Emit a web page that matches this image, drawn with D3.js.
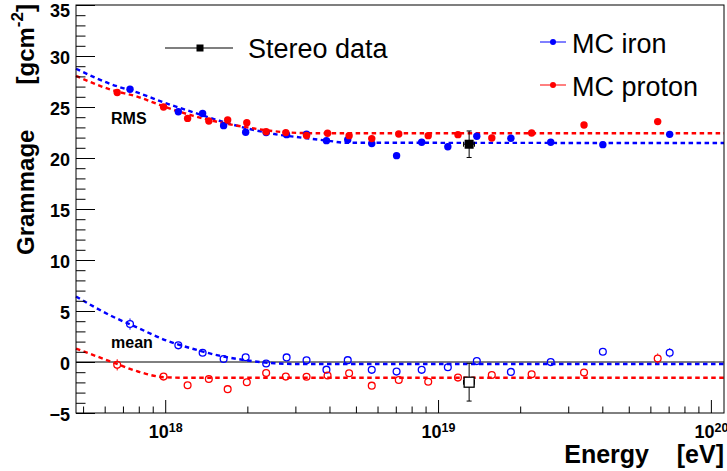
<!DOCTYPE html>
<html><head><meta charset="utf-8">
<script src="https://cdn.jsdelivr.net/npm/d3@7"></script>
<style>
body{margin:0;background:#fff}
svg{display:block}
text{font-family:"Liberation Sans",Arial,Helvetica,sans-serif}
</style>
</head><body>
<svg id="c" width="727" height="471"></svg>
<script>
// ---------------- data ----------------
const ironEnergy = [7.43e17,1.117e18,1.371e18,1.637e18,1.972e18,2.344e18,2.786e18,3.296e18,3.899e18,4.667e18,5.715e18,7.047e18,8.71e18,1.086e19,1.387e19,1.849e19,2.588e19,4.018e19,7.063e19];
const ironRMS    = [26.74,24.53,24.36,23.17,22.53,22.49,22.29,22.33,21.70,21.80,21.41,20.23,21.54,21.11,22.13,21.93,21.54,21.31,22.32];
const ironMean   = [3.72,1.63,0.90,0.30,0.46,-0.14,0.45,0.17,-0.75,0.18,-0.77,-0.94,-0.77,-0.51,0.09,-0.97,-0.01,1.00,0.90];
const ironMeanErr= [0.55,0.35,0.3,0.3,0.3,0.3,0.3,0.3,0.3,0.3,0.3,0.3,0.3,0.3,0.3,0.3,0.3,0.35,0.45];

const protonEnergy = [6.668e17,9.86e17,1.208e18,1.445e18,1.694e18,1.991e18,2.344e18,2.767e18,3.296e18,3.936e18,4.721e18,5.715e18,7.178e18,9.204e18,1.183e19,1.574e19,2.203e19,3.428e19,6.383e19];
const protonRMS    = [26.42,25.00,23.88,23.63,23.73,23.45,22.57,22.49,22.21,22.42,22.19,21.90,22.35,22.19,22.29,21.96,22.45,23.24,23.57];
const protonMean   = [-0.28,-1.43,-2.28,-1.67,-2.66,-1.98,-1.08,-1.43,-1.45,-1.33,-1.10,-2.32,-1.76,-1.93,-1.53,-1.27,-1.20,-1.04,0.34];
const protonMeanErr= [0.55,0.35,0.3,0.3,0.3,0.3,0.3,0.3,0.3,0.3,0.3,0.3,0.3,0.3,0.3,0.3,0.3,0.35,0.5];

const stereoEnergy = [1.30e19];
const stereoEnergyLo = [1.24e19];
const stereoEnergyHi = [1.36e19];
const stereoRMS = [21.35];
const stereoRMSErr = [1.3];
const stereoMean = [-1.98];
const stereoMeanErr = [1.85];

// fitted curves
const fitEnergy      = [4.71e17,6.31e17,7.94e17,1e18,1.26e18,1.58e18,2e18,2.51e18,3.16e18,3.98e18,4.57e18,1.117e20];
const fitIronRMS     = [28.75,27.25,26.4,25.4,24.5,23.65,22.9,22.35,22.0,21.68,21.5,21.47];
const fitProtonRMS   = [28.05,26.7,26.0,25.0,24.15,23.5,23.0,22.62,22.45,22.42,22.42,22.42];
const fitIronMean    = [6.43,4.55,3.35,2.15,1.3,0.62,0.15,-0.12,-0.2,-0.2,-0.2,-0.2];
const fitProtonMean  = [1.31,0.05,-0.93,-1.5,-1.55,-1.55,-1.55,-1.55,-1.55,-1.55,-1.55,-1.55];

const yTickValues = [-5,0,5,10,15,20,25,30,35];
const xTickValues = [1e18,1e19,1e20];
const xTickExponents = ["18","19","20"];
const legendLabels = ["Stereo data","MC iron","MC proton"];

// ---------------- chart ----------------
const BLUE = "#0000ff", RED = "#ff0000";
const R = 3.7;
const svg = d3.select("#c");
const x = d3.scaleLog().domain([4.71e17, 1.117e20]).range([76, 724]);
const y = d3.scaleLinear().domain([-5, 35]).range([413, 5]);

// zero line
svg.append("line").attr("x1", 76).attr("x2", 724).attr("y1", y(0)).attr("y2", y(0))
  .attr("stroke", "#000").attr("stroke-width", 1);

// fit curves
const line = d3.line().x(d => x(d[0])).y(d => y(d[1])).curve(d3.curveMonotoneX);
function fit(vals, col) {
  svg.append("path").datum(fitEnergy.map((e, i) => [e, vals[i]]))
    .attr("d", line).attr("fill", "none").attr("stroke", col)
    .attr("stroke-width", 2.4).attr("stroke-dasharray", "4.5,3.5");
}
fit(fitIronRMS, BLUE);
fit(fitProtonRMS, RED);
fit(fitIronMean, BLUE);
fit(fitProtonMean, RED);

// error bars drawn outside the marker (as ROOT does)
function errBars(E, V, Err, col) {
  const g = svg.append("g");
  E.forEach((e, i) => {
    const cx = x(e), cy = y(V[i]), top = y(V[i] + Err[i]), bot = y(V[i] - Err[i]);
    if (cy - top > R) g.append("line").attr("x1", cx).attr("x2", cx).attr("y1", top).attr("y2", cy - R).attr("stroke", col);
    if (bot - cy > R) g.append("line").attr("x1", cx).attr("x2", cx).attr("y1", cy + R).attr("y2", bot).attr("stroke", col);
  });
}
errBars(ironEnergy, ironMean, ironMeanErr, BLUE);
errBars(protonEnergy, protonMean, protonMeanErr, RED);

function filled(E, V, col) {
  svg.append("g").selectAll("circle").data(E).join("circle")
    .attr("cx", d => x(d)).attr("cy", (d, i) => y(V[i])).attr("r", R).attr("fill", col);
}
function open(E, V, col) {
  svg.append("g").selectAll("circle").data(E).join("circle")
    .attr("cx", d => x(d)).attr("cy", (d, i) => y(V[i])).attr("r", R - 0.3)
    .attr("fill", "none").attr("stroke", col).attr("stroke-width", 1.3);
}
filled(ironEnergy, ironRMS, BLUE);
filled(protonEnergy, protonRMS, RED);
open(ironEnergy, ironMean, BLUE);
open(protonEnergy, protonMean, RED);

// stereo data
function stereo(V, Err, isFilled) {
  const g = svg.append("g");
  stereoEnergy.forEach((e, i) => {
    const cx = x(e), cy = y(V[i]), y1 = y(V[i] - Err[i]), y2 = y(V[i] + Err[i]);
    const xl = x(stereoEnergyLo[i]), xh = x(stereoEnergyHi[i]);
    g.append("line").attr("x1", cx).attr("x2", cx).attr("y1", y1).attr("y2", y2).attr("stroke", "#000");
    g.append("line").attr("x1", cx - 2.5).attr("x2", cx + 2.5).attr("y1", y1).attr("y2", y1).attr("stroke", "#000");
    g.append("line").attr("x1", cx - 2.5).attr("x2", cx + 2.5).attr("y1", y2).attr("y2", y2).attr("stroke", "#000");
    g.append("line").attr("x1", xl).attr("x2", xh).attr("y1", cy).attr("y2", cy).attr("stroke", "#000");
    g.append("line").attr("x1", xl).attr("x2", xl).attr("y1", cy - 2.5).attr("y2", cy + 2.5).attr("stroke", "#000");
    g.append("line").attr("x1", xh).attr("x2", xh).attr("y1", cy - 2.5).attr("y2", cy + 2.5).attr("stroke", "#000");
    const s = isFilled ? 9 : 10;
    g.append("rect").attr("x", cx - s / 2).attr("y", cy - s / 2).attr("width", s).attr("height", s)
      .attr("fill", isFilled ? "#000" : "#fff").attr("stroke", "#000").attr("stroke-width", isFilled ? 0 : 1.3);
  });
}
stereo(stereoRMS, stereoRMSErr, true);
stereo(stereoMean, stereoMeanErr, false);

// frame
svg.append("rect").attr("x", 76).attr("y", 5).attr("width", 648).attr("height", 408)
  .attr("fill", "none").attr("stroke", "#000").attr("stroke-width", 1);

// axes
const yMinor = d3.range(-5, 36, 1).filter(v => v % 5 !== 0);
svg.append("g").attr("transform", "translate(76,0)")
  .call(d3.axisLeft(y).tickValues(yMinor).tickSize(-9.5).tickFormat(""));
const gy = svg.append("g").attr("transform", "translate(76,0)")
  .call(d3.axisLeft(y).tickValues(yTickValues).tickSize(-19).tickPadding(6).tickFormat(d3.format("d")));
gy.selectAll("text").attr("font-size", 18).attr("font-weight", "bold").attr("fill", "#000")
  .attr("dy", d => d === 35 ? "0.66em" : "0.44em").attr("font-family", "Liberation Sans, Arial, sans-serif");

const xMinor = [];
[1e17, 1e18, 1e19].forEach(dec => { for (let k = 2; k <= 9; k++) { const v = k * dec; if (v >= 4.71e17 && v <= 1.117e20) xMinor.push(v); } });
svg.append("g").attr("transform", "translate(0,413)")
  .call(d3.axisBottom(x).tickValues(xMinor).tickSize(-6.5).tickFormat(""));
const gx = svg.append("g").attr("transform", "translate(0,413)")
  .call(d3.axisBottom(x).tickValues(xTickValues).tickSize(-13).tickPadding(12).tickFormat(() => ""));
gx.selectAll("text").each(function(d, i) {
  const t = d3.select(this).attr("font-size", 18).attr("font-weight", "bold").attr("fill", "#000")
    .attr("font-family", "Liberation Sans, Arial, sans-serif");
  t.append("tspan").text("10");
  t.append("tspan").attr("font-size", 12.5).attr("dy", "-0.45em").text(xTickExponents[i]);
});
svg.selectAll(".domain").remove();
svg.selectAll(".tick line").attr("stroke", "#000").attr("stroke-width", 1);

// axis titles
svg.append("text").attr("x", 724).attr("y", 463).attr("text-anchor", "end")
  .attr("font-size", 25).attr("font-weight", "bold").attr("fill", "#000")
  .attr("xml:space", "preserve").text("Energy    [eV]");

svg.append("text").attr("transform", "translate(34,255) rotate(-90)").attr("text-anchor", "start")
  .attr("font-size", 24).attr("font-weight", "bold").attr("fill", "#000").text("Grammage");
const yt = svg.append("text").attr("transform", "translate(34,4) rotate(-90)").attr("text-anchor", "end")
  .attr("font-size", 24).attr("font-weight", "bold").attr("fill", "#000");
yt.append("tspan").text("[gcm");
yt.append("tspan").attr("font-size", 17).attr("dy", "-0.62em").text("-2");
yt.append("tspan").attr("dy", "0.44em").text("]");

// labels
svg.append("text").attr("x", 111).attr("y", 124).attr("font-size", 16).attr("font-weight", "bold").text("RMS");
svg.append("text").attr("x", 111).attr("y", 348).attr("font-size", 16).attr("font-weight", "bold").text("mean");

// legend
const lg = svg.append("g");
lg.append("line").attr("x1", 165).attr("x2", 233).attr("y1", 48).attr("y2", 48).attr("stroke", "#7f7f7f").attr("stroke-width", 2);
lg.append("rect").attr("x", 196.5).attr("y", 44.5).attr("width", 7).attr("height", 7).attr("fill", "#000");
lg.append("text").attr("x", 248).attr("y", 58).attr("font-size", 27).attr("fill", "#000").text(legendLabels[0]);

[[BLUE, 42, 53, legendLabels[1]], [RED, 85, 96, legendLabels[2]]].forEach(([c, ly, ty, lab]) => {
  lg.append("line").attr("x1", 540).attr("x2", 566).attr("y1", ly).attr("y2", ly).attr("stroke", c).attr("stroke-width", 1);
  lg.append("circle").attr("cx", 553).attr("cy", ly).attr("r", 3).attr("fill", c);
  lg.append("text").attr("x", 572).attr("y", ty).attr("font-size", 27).attr("fill", "#000").text(lab);
});
</script>
</body></html>
